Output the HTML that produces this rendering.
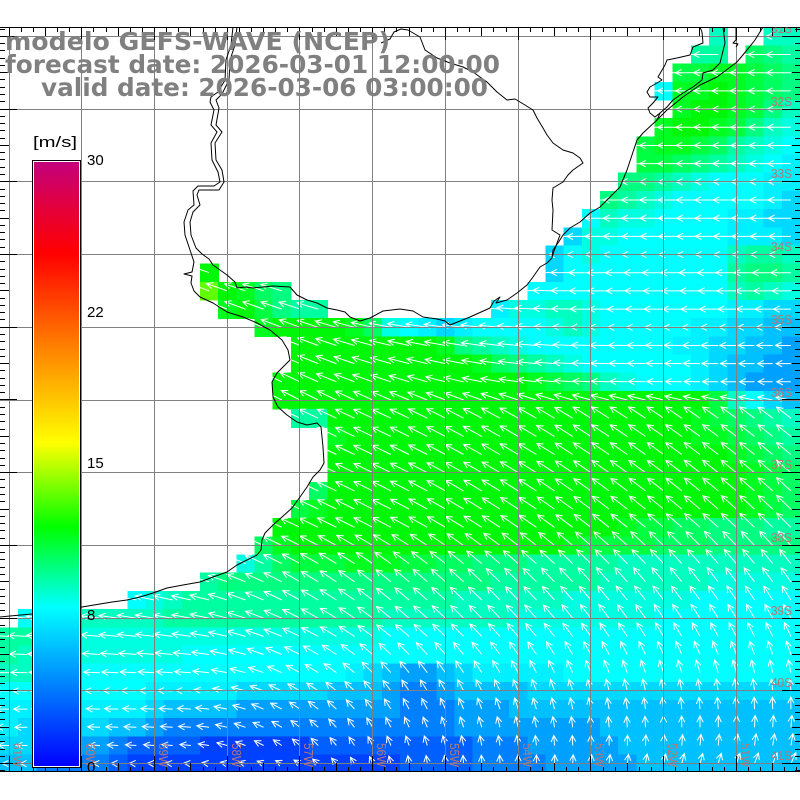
<!DOCTYPE html>
<html><head><meta charset="utf-8">
<style>
html,body{margin:0;padding:0;background:#fff;width:800px;height:800px;overflow:hidden;}
svg{display:block;}
</style></head>
<body>
<svg id="m" width="800" height="800" viewBox="0 0 800 800" xmlns="http://www.w3.org/2000/svg">
<defs>
<clipPath id="fr"><rect x="0" y="27.5" width="800" height="744.5"/></clipPath>
<linearGradient id="cb" x1="0" y1="0" x2="0" y2="1">
<stop offset="0" stop-color="#c4007c"/>
<stop offset="0.075" stop-color="#e3003c"/>
<stop offset="0.152" stop-color="#ff0000"/>
<stop offset="0.306" stop-color="#ff8000"/>
<stop offset="0.465" stop-color="#ffff00"/>
<stop offset="0.604" stop-color="#00ff00"/>
<stop offset="0.737" stop-color="#00ffff"/>
<stop offset="1" stop-color="#0000ff"/>
</linearGradient>
</defs>
<rect width="800" height="800" fill="#fff"/>
<g id="cells" clip-path="url(#fr)" shape-rendering="crispEdges"></g>
<g id="arr" clip-path="url(#fr)" stroke="#fff" stroke-width="1" fill="none"></g>
<g stroke="#808080" stroke-width="1" shape-rendering="crispEdges" clip-path="url(#fr)">
<line x1="9.5" y1="28" x2="9.5" y2="772"/>
<line x1="81.5" y1="28" x2="81.5" y2="772"/>
<line x1="154.5" y1="28" x2="154.5" y2="772"/>
<line x1="227.5" y1="28" x2="227.5" y2="772"/>
<line x1="299.5" y1="28" x2="299.5" y2="772"/>
<line x1="372.5" y1="28" x2="372.5" y2="772"/>
<line x1="445.5" y1="28" x2="445.5" y2="772"/>
<line x1="518.5" y1="28" x2="518.5" y2="772"/>
<line x1="590.5" y1="28" x2="590.5" y2="772"/>
<line x1="663.5" y1="28" x2="663.5" y2="772"/>
<line x1="736.5" y1="28" x2="736.5" y2="772"/>
<line x1="0" y1="36.5" x2="800" y2="36.5"/>
<line x1="0" y1="109.5" x2="800" y2="109.5"/>
<line x1="0" y1="181.5" x2="800" y2="181.5"/>
<line x1="0" y1="254.5" x2="800" y2="254.5"/>
<line x1="0" y1="327.5" x2="800" y2="327.5"/>
<line x1="0" y1="400.5" x2="800" y2="400.5"/>
<line x1="0" y1="472.5" x2="800" y2="472.5"/>
<line x1="0" y1="545.5" x2="800" y2="545.5"/>
<line x1="0" y1="618.5" x2="800" y2="618.5"/>
<line x1="0" y1="690.5" x2="800" y2="690.5"/>
<line x1="0" y1="763.5" x2="800" y2="763.5"/>
</g>
<g fill="none" stroke="#000" stroke-width="1" clip-path="url(#fr)" stroke-linejoin="round">
<polyline points="233,27 231,45 226,60 225,80 218,92 211,97 210,102 214,110 211,125 217,132 211,143 212,160 218,172 220,182 214,186 198,186 193,191 194,205 188,210 184,222 185,235 190,250 194,262 192,272 184,274 192,276 191,283 194,291 200,297 213,303 227,312 243,317 257,323 270,330 282,340 288,350 290,360 283,367 277,373 272,382 273,397 278,407 287,415 297,422 307,425 317,423 321,427 323,447 324,463 320,470 313,477 307,487 300,497 292,508 282,517 273,525 265,533 262,540 261,550 257,555 247,560 237,565 227,572 213,577 200,582 183,585 167,588 153,593 140,597 127,600 112,602 100,604 82,607 32,614 10,616 0,617"/>
<polyline points="237,27 235,45 230,60 229,80 222,94 216,100 219,108 216,125 222,132 215,143 216,160 222,170 224,182 219,190 206,190 199,190 197,195 200,205 193,212 190,222 191,235 196,248 202,254 209,259 213,265 220,270 227,275 235,282 237,288 245,287 253,288 273,286 290,287 297,295 307,300 317,303 327,308 337,310 345,312 350,317 360,321 370,318 383,311 400,309 413,311 423,317 437,319 445,321 450,325 470,317 490,308 494,301 500,297 496,303 507,300 517,293 527,285 533,277 540,267 547,263 552,258 553,250 558,243 563,235 570,228 580,222 590,213 600,207 610,197 620,187 627,170 632,155 637,140 643,133 657,120 667,110 683,97 700,85 717,77 737,62 747,50 755,40 763,27"/>
<polyline points="381,43 390,39 394,32 401,29 408,30 420,37 425,50 437,58 450,63 463,67 473,72 487,82 497,92 507,100 515,99 525,105 533,110 537,118 543,128 547,135 553,143 563,150 573,153 580,158 583,163 573,170 568,175 563,182 553,188 552,200 553,210 552,230 560,235 557,243 552,257"/>
<polyline points="700,27 702,32 703,43 693,47 690,55 677,58 667,60 665,65 658,77 662,80 657,83 650,87 647,92 650,97 658,97 653,103 648,108 650,113 655,117 660,113"/>
<polyline points="723,27 725,43 720,63 713,70 703,73 702,80 693,87 683,93 673,100 667,107 660,113 657,120"/>
<polyline points="736,27 736,40 733,43 738,44 736,47"/>
</g>
<g id="ticks" stroke="#000" stroke-width="1" shape-rendering="crispEdges">
<line x1="0" y1="27.5" x2="800" y2="27.5"/>
<line x1="0" y1="771.5" x2="800" y2="771.5"/>
</g>
<g clip-path="url(#fr)" fill="#b47878" font-family="Liberation Sans, sans-serif" font-size="13">
<text x="771" y="33" textLength="21" lengthAdjust="spacingAndGlyphs">31S</text>
<text x="771" y="106" textLength="21" lengthAdjust="spacingAndGlyphs">32S</text>
<text x="771" y="178" textLength="21" lengthAdjust="spacingAndGlyphs">33S</text>
<text x="771" y="251" textLength="21" lengthAdjust="spacingAndGlyphs">34S</text>
<text x="771" y="324" textLength="21" lengthAdjust="spacingAndGlyphs">35S</text>
<text x="771" y="397" textLength="21" lengthAdjust="spacingAndGlyphs">36S</text>
<text x="771" y="469" textLength="21" lengthAdjust="spacingAndGlyphs">37S</text>
<text x="771" y="542" textLength="21" lengthAdjust="spacingAndGlyphs">38S</text>
<text x="771" y="615" textLength="21" lengthAdjust="spacingAndGlyphs">39S</text>
<text x="771" y="687" textLength="21" lengthAdjust="spacingAndGlyphs">40S</text>
<text x="771" y="760" textLength="21" lengthAdjust="spacingAndGlyphs">41S</text>
<text transform="translate(13,743) rotate(90)" textLength="24" lengthAdjust="spacingAndGlyphs">61W</text>
<text transform="translate(86,743) rotate(90)" textLength="24" lengthAdjust="spacingAndGlyphs">60W</text>
<text transform="translate(159,743) rotate(90)" textLength="24" lengthAdjust="spacingAndGlyphs">59W</text>
<text transform="translate(232,743) rotate(90)" textLength="24" lengthAdjust="spacingAndGlyphs">58W</text>
<text transform="translate(304,743) rotate(90)" textLength="24" lengthAdjust="spacingAndGlyphs">57W</text>
<text transform="translate(377,743) rotate(90)" textLength="24" lengthAdjust="spacingAndGlyphs">56W</text>
<text transform="translate(450,743) rotate(90)" textLength="24" lengthAdjust="spacingAndGlyphs">55W</text>
<text transform="translate(523,743) rotate(90)" textLength="24" lengthAdjust="spacingAndGlyphs">54W</text>
<text transform="translate(595,743) rotate(90)" textLength="24" lengthAdjust="spacingAndGlyphs">53W</text>
<text transform="translate(668,743) rotate(90)" textLength="24" lengthAdjust="spacingAndGlyphs">52W</text>
<text transform="translate(741,743) rotate(90)" textLength="24" lengthAdjust="spacingAndGlyphs">51W</text>
</g>
<rect x="32.5" y="160.5" width="48" height="607" fill="#fff" stroke="#000" stroke-width="1" shape-rendering="crispEdges"/>
<rect x="34" y="162" width="45" height="604" fill="url(#cb)"/>
<g fill="#000" font-family="Liberation Sans, sans-serif" font-size="15">
<text x="33" y="147" textLength="44" lengthAdjust="spacingAndGlyphs">[m/s]</text>
<text x="87" y="165">30</text>
<text x="87" y="317">22</text>
<text x="87" y="468">15</text>
<text x="87" y="620">8</text>
<text x="87" y="772">0</text>
</g>
<g fill="#808080" font-family="DejaVu Sans, Liberation Sans, sans-serif" font-weight="bold" font-size="25">
<text x="5" y="50" textLength="385" lengthAdjust="spacingAndGlyphs">modelo GEFS-WAVE (NCEP)</text>
<text x="5" y="73" textLength="495" lengthAdjust="spacingAndGlyphs">forecast date: 2026-03-01 12:00:00</text>
<text x="41" y="96" textLength="447" lengthAdjust="spacingAndGlyphs">valid date: 2026-03-06 03:00:00</text>
</g>
</svg>
<script>
(function(){
var R=[
"39. j .. jj",
"38. kk . mlk",
"37. nnoonml",
"36. h ooponml",
"37. opponlj",
"36. opponlji",
"35. noonmkjih",
"35. nnmlkjihg",
"34. llkjihhhgg",
"33. lkjihhhhhgf",
"32. hjiihhhhggff",
"31. fiihhhhhhgggf",
"30. fhi 7h jkkj",
"11. p 18. fhh 7h kllk",
"11. rpoml 13. 11h jkji",
"12. opnlkk 9. giijji 7h ggff",
"14. o 4p omihgfg 4h iji 5h ggffee",
"16. 8p olkji 8h ggffeed",
"16. 10p omlkji 6h gfeedd",
"15. 14p onmlji 3h gfeddd",
"15. 24p njhfe",
"16. kk 20p onmlkj",
"18. o 19p oonmlk",
"18. 22p onml",
"18. 23p onm",
"17. m 23p onm",
"16. no 23p onm",
"15. 19p onnmmlllkk",
"14. mo 15p o 4n 3m 5l",
"13. ikmnnnooonnmmlll 5k 10j",
"11. k 15l 6k 6j 5i",
"7. hij 15k 6j 7i 6h",
". h ii jjjjj 12k 7j 8i 8h",
"kk 19i 23h",
"kj 8i 34h",
"jj 17h gfeddef 5g 13h",
"8h 5g 5f 3e dccd 4e 15f",
"8g f 4e 9d 3c 3d 16e",
"g 5f ee d 16c 8d 11e",
"ff 4d c 4b 6a 9b 3c 5d 10e",
"ee 4c b 15a 4b 4c 5d 9e"
];
var P={a:'#0040ff',b:'#0060ff',c:'#0080ff',d:'#00a0ff',e:'#00c0ff',f:'#00d8ff',g:'#00f0ff',h:'#00ffff',i:'#00ffe0',j:'#00ffc0',k:'#00ffa0',l:'#00ff80',m:'#00ff60',n:'#00ff40',o:'#00ff20',p:'#00f808',q:'#40ff00',r:'#60ff00'};
function ex(s){return s.split(' ').map(function(t){var m=t.match(/^(\d+)(.+)$/);if(m){var o='';for(var i=0;i<+m[1];i++)o+=m[2];return o;}return t;}).join('');}
var AR=[0,12,13,16,19,20,21,27,30,33,36,39,40];
var AX=[0,200,300,400,600,800];
var AA=[
[180,180,180,180,180,180],
[180,180,180,180,180,180],
[160,160,165,175,180,180],
[158,158,160,170,180,180],
[155,155,155,162,178,180],
[152,152,153,157,165,170],
[152,152,155,155,148,142],
[155,155,155,152,142,135],
[170,165,150,140,132,125],
[178,172,155,140,125,115],
[180,178,150,125,105,95],
[180,175,140,110,90,80],
[180,175,150,100,85,65]];
var AL=[
[25,25,25,25,25,25],
[25,25,25,25,24,22],
[22,22,22,23,22,20],
[22,22,22,22,20,16],
[22,22,22,21,18,14],
[21,21,21,21,19,15],
[21,21,21,21,21,18],
[21,21,21,21,21,20],
[20,20,20,19,19,17],
[19,19,19,18,16,15],
[15,15,14,13,12,12],
[11,11,10,10,10,12],
[7,7,7,8,9,12]];
function interp(T,r,x){
  var i=0;while(i<AR.length-2&&r>AR[i+1])i++;
  var fr=(r-AR[i])/(AR[i+1]-AR[i]);if(fr<0)fr=0;if(fr>1)fr=1;
  var j=0;while(j<AX.length-2&&x>AX[j+1])j++;
  var fx=(x-AX[j])/(AX[j+1]-AX[j]);if(fx<0)fx=0;if(fx>1)fx=1;
  var a=T[i][j]+(T[i][j+1]-T[i][j])*fx;
  var b=T[i+1][j]+(T[i+1][j+1]-T[i+1][j])*fx;
  return a+(b-a)*fr;
}
var cw=800/44,y0=27.27,cs='',as='';
for(var r=0;r<R.length;r++){
  var s=ex(R[r]);
  for(var c=0;c<44;c++){
    var ch=s.charAt(c);
    if(!ch||ch==='.')continue;
    var col=P[ch]||'#00ffff';
    var x=c*cw,y=y0+r*cw;
    cs+='<rect x="'+x.toFixed(2)+'" y="'+y.toFixed(2)+'" width="'+(cw+0.6).toFixed(2)+'" height="'+(cw+0.6).toFixed(2)+'" fill="'+col+'"/>';
    var cx=x+cw/2,cy=y+cw/2;
    var th=interp(AA,r,cx)*Math.PI/180,L=interp(AL,r,cx);
    var tx=cx+L*Math.cos(th),ty=cy-L*Math.sin(th);
    var ph=th+Math.PI,bl=7,da=27*Math.PI/180;
    var b1x=tx+bl*Math.cos(ph+da),b1y=ty-bl*Math.sin(ph+da);
    var b2x=tx+bl*Math.cos(ph-da),b2y=ty-bl*Math.sin(ph-da);
    as+='<path d="M'+cx.toFixed(1)+' '+cy.toFixed(1)+'L'+tx.toFixed(1)+' '+ty.toFixed(1)+'M'+b1x.toFixed(1)+' '+b1y.toFixed(1)+'L'+tx.toFixed(1)+' '+ty.toFixed(1)+'L'+b2x.toFixed(1)+' '+b2y.toFixed(1)+'"/>';
  }
}
document.getElementById('cells').innerHTML=cs;
document.getElementById('arr').innerHTML=as;
var t='';
for(var k=0;k<=65;k++){
  var xx=Math.floor(9.09+k*72.727/6)+0.5;
  var lt=(k%6===0)?12:((k%3===0)?8:4);
  var lb=(k%6===0)?15:((k%3===0)?8:4);
  t+='<line x1="'+xx+'" y1="28" x2="'+xx+'" y2="'+(28+lt)+'"/>';
  t+='<line x1="'+xx+'" y1="771" x2="'+xx+'" y2="'+(771-lb)+'"/>';
}
for(var k2=-1;k2<=101;k2++){
  var yy=Math.floor(36.36+k2*7.2727)+0.5;
  if(yy<28||yy>771)continue;
  var m10=((k2%10)+10)%10, m5=((k2%5)+5)%5;
  var ll=(m10===0)?17:((m5===0)?9:5);
  var lr=(m10===0)?18:((m5===0)?8:5);
  t+='<line x1="0" y1="'+yy+'" x2="'+ll+'" y2="'+yy+'"/>';
  t+='<line x1="800" y1="'+yy+'" x2="'+(800-lr)+'" y2="'+yy+'"/>';
}
document.getElementById('ticks').insertAdjacentHTML('beforeend',t);
})();
</script>
</body></html>
